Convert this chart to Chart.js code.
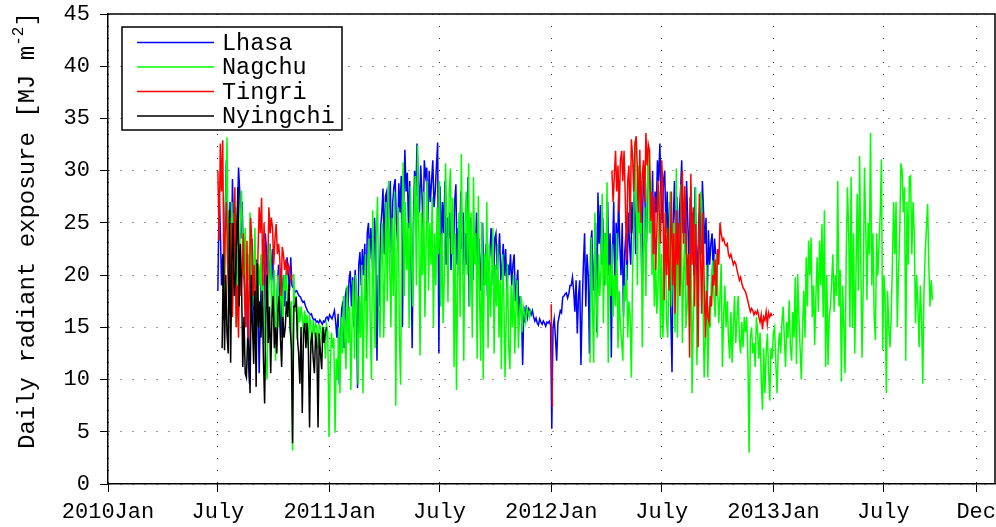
<!DOCTYPE html>
<html>
<head>
<meta charset="utf-8">
<title>Daily radiant exposure</title>
<script src="https://cdn.jsdelivr.net/npm/chart.js@4.4.1/dist/chart.umd.min.js"></script>
<style>
    html, body { margin: 0; padding: 0; background: #fff; }
    canvas { display: block; }
</style>
</head>
<body>
<canvas id="radiation-chart" width="996" height="527"></canvas>
<script>
/* ============================================= */
/*                    Data                       */
/* ============================================= */

// x values are days counted from 2010-01-01
const tickDays = [0, 181, 365, 546, 730, 912, 1096, 1277, 1430];
const tickLabels = ['2010Jan', 'July', '2011Jan', 'July', '2012Jan', 'July', '2013Jan', 'July', 'Dec'];
const lastDay = 1461;

const stationNames = ['Lhasa', 'Nagchu', 'Tingri', 'Nyingchi'];
const stationColors = ['#0000ff', '#00ff00', '#ff0000', '#000000'];

// one value every second day, starting at the given day
const dayStep = 2;

const lhasaStart = 181;
const lhasaVals = [
    18.5, 28.0, 24.5, 19.0, 22.0, 15.7, 26.0, 31.0, 25.5, 22.0, 27.0,
    20.5, 29.2, 24.0, 26.5, 18.0, 25.0, 30.3, 28.0, 23.5, 27.0, 21.0,
    19.0, 15.0, 22.0, 12.0, 9.6, 17.5, 23.5, 20.0, 14.0, 18.0, 21.5,
    17.0, 10.6, 16.5, 21.0, 19.5, 13.5, 24.0, 22.5, 17.0, 20.0, 23.0,
    19.5, 22.5, 18.0, 15.0, 12.5, 19.0, 21.0, 16.5, 14.0, 18.5, 20.0,
    17.0, 19.5, 21.7, 20.0, 18.5, 21.7, 19.0, 18.8, 18.6, 18.4,
    18.5, 18.2, 18.0, 17.9, 17.6, 17.4, 17.5, 17.1, 16.8, 16.5,
    16.4, 16.2, 16.3, 15.9, 15.7, 15.8, 15.5, 15.6, 15.4, 15.7,
    15.5, 15.3, 15.6, 15.5, 15.9, 16.0, 15.7, 16.2,
    16.0, 15.8, 16.2, 16.6, 15.5, 14.0, 16.3, 9.5,
    14.5, 16.8, 17.5, 13.0, 18.0, 18.8, 16.5, 19.5, 20.4, 17.0,
    19.8, 15.0, 20.5, 18.5, 9.2, 21.0, 22.2, 19.0, 22.5, 20.0,
    23.0, 17.5, 24.0, 25.0, 21.5, 24.5, 22.0, 19.0, 25.5, 23.0,
    11.8, 20.0, 17.0, 24.5, 26.0, 28.3, 22.0, 27.5, 28.0, 24.0,
    26.5, 29.0, 21.0, 27.0, 28.5, 29.2, 25.0, 23.0, 28.8, 26.0,
    29.5, 15.0, 27.0, 32.0, 28.0, 29.8, 24.5, 29.0, 22.0, 13.0,
    25.0, 30.0, 27.5, 32.6, 29.0, 26.0, 30.5, 28.0, 24.0, 31.0,
    29.5, 30.3, 25.0, 30.0, 27.0, 29.0, 31.0, 26.5, 28.0, 30.5,
    32.7, 12.5, 28.5, 22.4, 27.0, 24.0, 29.0, 21.0, 25.5, 23.5,
    26.0, 20.5, 24.0, 22.0, 27.0, 28.7, 21.0, 24.5, 20.0, 28.0,
    22.5, 26.0, 20.0, 24.0, 21.0, 29.4, 17.0, 25.5, 23.0, 19.5,
    24.0, 21.5, 26.0, 20.0, 23.5, 18.5, 22.0, 25.0, 19.0, 21.5,
    23.0, 18.0, 20.5, 22.0, 24.5, 21.7, 19.0, 23.5, 24.0, 20.5,
    22.0, 24.0, 19.5, 21.0, 23.0, 20.0, 22.5, 18.5, 21.0, 20.0,
    22.0, 19.0, 21.0, 22.0, 17.5, 19.0, 20.5, 15.5, 18.0, 16.5,
    11.4, 17.0, 15.5, 17.1, 16.0, 16.8, 16.6, 16.2, 16.6, 16.0,
    15.6, 15.9, 15.4, 15.2, 15.8, 15.5, 15.3, 15.6, 15.4, 15.1,
    15.5, 15.4, 15.6, 15.2, 5.3, 15.0, 15.8, 14.0, 11.8, 15.4,
    16.0, 16.6, 16.4, 17.9, 18.0, 18.2, 18.3, 17.8, 18.2, 19.0,
    19.0, 19.8, 18.5, 16.5, 19.5, 14.4, 18.0, 19.5, 11.4, 17.0,
    21.0, 24.0, 17.0, 22.0, 20.0, 12.5, 23.0, 24.3, 18.5, 21.0,
    25.0, 14.5, 27.9, 23.0, 26.7, 21.0, 25.5, 19.0, 24.0, 22.0,
    27.0, 20.0, 24.0, 12.1, 22.0, 27.0, 19.0, 25.0, 21.4, 27.6,
    23.0, 20.0, 25.0, 16.0, 22.0, 24.0, 19.5, 26.0, 23.0, 21.0,
    27.0, 24.0, 29.0, 22.0, 26.5, 30.0, 25.0, 28.5, 20.0, 27.0,
    30.5, 26.0, 23.0, 29.0, 31.5, 27.0, 24.0, 30.0, 22.0, 28.0,
    26.0, 31.0, 29.0, 32.6, 27.5, 25.0, 29.0, 30.0, 24.0, 28.0,
    22.0, 27.0, 16.3, 10.7, 25.0, 29.0, 23.0, 27.5, 20.0, 26.0,
    28.0, 31.0, 24.0, 27.0, 22.0, 29.0, 25.0, 21.0, 27.5, 24.0,
    26.0, 20.0, 28.4, 23.0, 19.0, 25.0, 27.0, 22.0, 29.0, 26.0,
    23.0, 25.5, 17.3, 24.3, 21.0, 23.0, 24.0, 20.0, 23.5, 22.0
];

const nagchuStart1 = 190;
const nagchuVals1 = [
    24.0, 18.0, 27.0, 33.2, 21.0, 25.5, 18.5, 27.0, 22.0, 26.0, 19.0,
    15.0, 23.0, 20.5, 25.0, 28.1, 21.0, 20.0, 24.5, 17.5, 22.0,
    19.5, 26.0, 22.4, 17.0, 20.5, 24.5, 18.0, 15.0, 21.0, 19.0,
    22.0, 16.5, 19.5, 14.0, 11.8, 10.0, 18.0, 23.0, 21.5, 16.0,
    18.0, 20.5, 11.8, 17.0, 20.0, 15.0, 17.5, 19.5, 14.5, 20.0,
    18.5, 20.7, 16.0, 18.0, 14.5, 17.5, 3.2, 20.1, 16.5, 18.0,
    13.8, 17.0, 15.5, 17.0, 16.0, 14.5, 16.6, 15.0, 16.2, 13.0,
    16.0, 15.5, 12.5, 15.7, 14.5, 15.3, 15.0, 13.0, 15.2, 15.0,
    14.0, 15.0, 14.8, 12.0, 15.2, 14.5, 4.5, 11.0, 14.5, 13.0,
    14.0, 4.9, 12.0, 10.0, 15.0, 8.7, 16.0, 12.5, 18.0, 14.0,
    11.0, 19.0, 13.5, 17.0, 9.0, 15.5, 19.5, 12.0, 20.0, 16.0,
    9.5, 18.0, 14.0, 21.0, 8.7, 17.5, 22.0, 12.0, 19.0, 23.5,
    15.0, 10.0, 26.2, 18.0, 13.0, 24.0, 27.5, 16.5, 14.0, 22.0,
    25.0, 14.0, 20.0, 27.0, 17.5, 29.0, 21.0, 15.0, 25.5, 18.0,
    28.0, 7.5, 22.0, 26.5, 14.0, 9.5, 24.0, 30.8, 18.0, 27.0,
    20.5, 25.0, 15.0, 28.5, 22.0, 17.0, 26.0, 29.5, 19.0, 32.4,
    24.0, 12.3, 26.0, 20.0, 28.0, 16.0, 23.0, 29.0, 18.5, 25.0,
    21.0, 27.5, 15.0, 24.0, 19.0, 26.5, 22.0, 29.0, 17.0, 24.0,
    15.4, 20.0, 30.7, 25.0, 17.4, 28.0, 30.2, 22.0, 27.4, 11.2,
    24.0, 9.0, 20.0, 26.0, 16.0, 31.6, 22.0, 11.8, 25.0, 28.0,
    20.0, 30.7, 17.0, 26.0, 14.0, 29.4, 21.0, 24.0, 12.0, 27.6,
    18.0, 11.8, 25.0, 10.0, 22.0, 19.0, 27.0, 13.0, 23.0, 16.0,
    20.0, 24.5, 12.5, 21.0, 17.0, 23.0, 14.0, 19.5, 11.0, 22.0,
    18.0, 10.2, 16.0, 21.1, 13.0, 11.0, 19.0, 15.0, 20.0, 12.5,
    17.0, 19.5, 13.0, 16.5, 18.0, 14.5, 17.0, 16.3, 15.5, 16.8,
    16.5, 16.0, 16.8
];

const nagchuStart2 = 794;
const nagchuVals2 = [
    11.6, 23.6, 17.0, 11.6, 26.0, 20.0, 14.0, 22.0, 18.0, 20.5,
    27.8, 15.4, 24.0, 19.0, 28.9, 11.6, 21.0, 18.0, 23.0, 16.0,
    20.0, 17.0, 24.0, 13.0, 18.5, 15.0, 13.7, 11.8, 19.0, 17.5,
    21.0, 14.0, 17.5, 16.0, 10.2, 20.0, 25.0, 32.9, 27.6, 19.0,
    30.5, 24.0, 29.0, 13.1, 22.0, 26.5, 18.0, 28.0, 32.2, 24.0,
    29.0, 20.0, 23.0, 17.0, 21.5, 16.3, 19.0, 28.0, 14.0, 22.0,
    14.0, 18.0, 26.0, 15.5, 14.0, 20.0, 28.0, 17.0, 21.0, 25.0,
    14.5, 30.2, 14.0, 22.0, 19.0, 28.7, 13.5, 20.0, 24.0, 15.0,
    17.0, 22.0, 15.0, 28.7, 8.7, 16.0, 20.0, 28.4, 11.4, 18.0,
    24.0, 28.0, 27.0, 18.0, 10.2, 14.0, 21.0, 10.2, 17.0, 15.0,
    20.0, 21.4, 18.0, 16.0, 22.0, 19.0, 15.4, 18.0, 21.1, 11.2,
    16.0, 19.0, 15.0, 17.5, 14.0, 12.0, 16.5, 11.6, 15.0, 18.0,
    13.5, 16.0, 18.0, 14.0, 12.5, 15.5, 13.1, 16.0, 14.5, 16.0,
    12.0, 3.0, 14.0, 15.0, 12.5, 13.5, 11.2, 16.0, 14.5, 12.0,
    14.5, 10.0, 7.1, 13.0, 8.7, 12.5, 14.4, 11.0, 8.0, 13.0,
    12.0, 14.5, 15.0, 11.5, 8.7, 13.0, 14.5, 12.5, 15.5, 17.0,
    14.0, 11.2, 15.5, 14.0, 17.6, 13.0, 11.8, 16.5, 14.0, 19.8,
    11.5, 20.1, 16.0, 13.0, 10.0, 15.0, 18.5, 14.0, 21.7, 17.0,
    23.3, 20.0, 23.6, 16.0, 19.0, 13.3, 18.0, 21.7, 16.5, 23.3,
    19.0, 24.9, 16.0, 26.2, 11.2, 20.0, 11.4, 16.0, 17.0, 19.5,
    22.0, 16.5, 20.0, 18.0, 29.0, 17.0, 20.5, 9.8, 19.0, 15.0,
    10.6, 22.0, 28.4, 24.0, 15.0, 29.4, 15.0, 24.0, 12.5, 20.0,
    27.8, 18.5, 31.4, 21.0, 12.1, 19.0, 30.3, 24.9, 17.6, 25.0,
    22.0, 33.6, 19.0, 24.0, 16.0, 13.8, 24.0, 20.0, 23.0, 26.0,
    31.1, 12.8, 20.0, 18.0, 8.7, 18.5, 15.0, 13.1, 16.0, 21.0,
    27.0, 22.0, 27.0, 15.0, 20.0, 24.0, 30.7, 30.0, 26.0, 28.4,
    11.8, 27.0, 21.0, 29.4, 29.5, 22.0, 27.0, 24.0, 15.4, 20.0,
    17.0, 13.1, 19.0, 16.0, 9.6, 18.5, 22.0, 24.5, 26.8, 21.0,
    17.0, 19.5, 17.6
];

const tingriStart1 = 181;
const tingriVals1 = [
    30.0, 23.3, 32.6, 28.0, 32.9, 19.2, 24.0, 27.0, 21.0, 17.0,
    16.3, 25.0, 16.0, 22.0, 28.4, 15.0, 19.0, 14.0, 22.5, 18.0,
    20.0, 24.0, 17.5, 15.0, 23.3, 13.1, 19.0, 25.5, 23.0, 18.0,
    21.0, 17.0, 15.5, 22.0, 26.5, 24.0, 27.4, 19.0, 25.0, 21.0,
    17.6, 20.5, 26.5, 24.0, 25.5, 24.5, 21.0, 23.5, 24.9, 22.0,
    23.0, 21.5, 18.0, 22.7, 22.0, 20.5, 21.5, 20.0, 21.0, 20.7,
    19.5, 20.0
];

const tingriStart2 = 730;
const tingriVals2 = [17.2, 7.4];

const tingriStart3 = 830;
const tingriVals3 = [
    30.0, 27.0, 29.5, 31.9, 28.0, 30.5, 26.0, 31.0, 31.9, 29.0,
    31.9, 27.5, 21.4, 29.0, 30.5, 24.0, 33.0, 31.5, 28.0, 32.5,
    33.3, 30.0, 26.0, 32.0, 25.0, 29.5, 31.0, 27.0, 33.6, 30.5,
    32.5, 31.9, 25.2, 28.0, 22.0, 27.5, 20.5, 24.0, 29.0, 26.0,
    23.0, 31.0, 28.5, 17.6, 26.0, 20.0, 24.5, 18.5, 22.0, 28.0,
    19.0, 24.0, 16.3, 26.2, 21.0, 25.0, 18.0, 27.0, 30.0, 23.0,
    28.5, 25.2, 19.0, 22.0, 12.1, 29.7, 21.0, 26.5, 17.0, 24.9,
    20.0, 13.1, 27.8, 22.0, 16.3, 26.0, 19.0, 14.0, 18.5, 16.0,
    15.5, 18.0, 17.0, 20.0, 19.0, 21.5, 18.0, 22.5, 21.0, 25.0,
    24.0, 23.3, 23.5, 23.0, 22.8, 23.0, 22.0, 21.7, 22.0, 21.5,
    21.0, 21.3, 21.1, 20.5, 20.0, 19.5, 19.8, 19.2, 18.8, 18.6,
    18.4, 18.0, 17.5, 17.0, 16.5, 16.8, 16.6, 16.2, 16.5, 16.3,
    16.6, 16.0, 15.5, 16.2, 14.8, 16.0, 15.7, 16.5, 15.3, 16.4,
    16.0, 16.3, 16.1
];

const nyingchiStart = 188;
const nyingchiVals = [
    13.0, 22.0, 12.8, 20.0, 14.4, 12.5, 26.2, 11.6, 21.0, 25.0,
    18.0, 20.0, 24.0, 28.4, 17.0, 23.0, 19.0, 11.2, 16.0, 10.6,
    10.2, 14.0, 13.0, 8.7, 20.0, 15.0, 11.5, 18.5, 9.3, 21.1,
    15.0, 17.5, 14.0, 18.5, 12.0, 7.7, 16.0, 20.0, 13.5, 17.0,
    10.6, 16.0, 18.0, 13.0, 15.0, 12.5, 16.5, 18.0, 14.0, 11.2,
    16.0, 14.0, 15.0, 17.5, 16.0, 19.2, 15.0, 13.0, 3.9, 17.0,
    17.0, 17.9, 14.0, 12.5, 9.6, 15.0, 6.8, 14.5, 15.4, 13.0,
    15.4, 13.0, 5.4, 13.5, 14.5, 12.0, 10.6, 14.5, 13.0, 5.4,
    14.4, 12.5, 11.0, 15.0, 13.5, 14.5, 15.0
];

// turn runs of values into {x, y} points, with a null point between runs
function toPoints(runs) {
    const points = [];
    runs.forEach(([start, vals], r) => {
        if (r > 0) {
            points.push({x: start - 1, y: null});
        }
        vals.forEach((v, i) => points.push({x: start + i * dayStep, y: v}));
    });
    return points;
}

const stationPoints = [
    toPoints([[lhasaStart, lhasaVals]]),
    toPoints([[nagchuStart1, nagchuVals1], [nagchuStart2, nagchuVals2]]),
    toPoints([[tingriStart1, tingriVals1], [tingriStart2, tingriVals2], [tingriStart3, tingriVals3]]),
    toPoints([[nyingchiStart, nyingchiVals]])
];


/* ============================================= */
/*                  Plugins                      */
/* ============================================= */

const monoFont = "'Liberation Mono', 'Courier New', monospace";

// top and right edges of the axes box
const boxFrame = {
    id: 'boxFrame',
    afterDraw(chart) {
        const {ctx, chartArea} = chart;
        ctx.save();
        ctx.strokeStyle = '#000';
        ctx.lineWidth = 1.5;
        ctx.beginPath();
        ctx.moveTo(chartArea.left, chartArea.top);
        ctx.lineTo(chartArea.right, chartArea.top);
        ctx.lineTo(chartArea.right, chartArea.bottom);
        ctx.stroke();
        ctx.restore();
    }
};

// legend with a framed box inside the plot
const boxLegend = {
    id: 'boxLegend',
    afterDatasetsDraw(chart) {
        const {ctx, chartArea} = chart;
        const x = chartArea.left + 14;
        const y = chartArea.top + 13;
        ctx.save();
        ctx.fillStyle = '#fff';
        ctx.fillRect(x, y, 220, 103);
        ctx.strokeStyle = '#000';
        ctx.lineWidth = 1.5;
        ctx.strokeRect(x, y, 220, 103);
        ctx.font = '23.5px ' + monoFont;
        ctx.textBaseline = 'middle';
        chart.data.datasets.forEach((ds, i) => {
            const ly = y + 15.5 + i * 24.5;
            ctx.strokeStyle = ds.borderColor;
            ctx.lineWidth = 1.5;
            ctx.beginPath();
            ctx.moveTo(x + 15, ly);
            ctx.lineTo(x + 92, ly);
            ctx.stroke();
            ctx.fillStyle = '#000';
            ctx.fillText(ds.label, x + 100, ly + 1);
        });
        ctx.restore();
    }
};

// rotated y axis title with a superscript exponent
const yTitle = {
    id: 'yTitle',
    afterDraw(chart) {
        const ctx = chart.ctx;
        const main = 'Daily radiant exposure [MJ m';
        ctx.save();
        ctx.translate(28, 449);
        ctx.rotate(-Math.PI / 2);
        ctx.fillStyle = '#000';
        ctx.textBaseline = 'middle';
        ctx.font = '24px ' + monoFont;
        ctx.fillText(main, 0, 0);
        let w = ctx.measureText(main).width;
        ctx.font = '16px ' + monoFont;
        ctx.fillText('-2', w, -9);
        w += ctx.measureText('-2').width;
        ctx.font = '24px ' + monoFont;
        ctx.fillText(']', w, 0);
        ctx.restore();
    }
};


/* ============================================= */
/*                   Chart                       */
/* ============================================= */

const radCanvas = document.getElementById('radiation-chart');
const drawOrder = [4, 3, 2, 1];

const radData = {
    datasets: stationNames.map((name, i) => ({
        label: name,
        data: stationPoints[i],
        borderColor: stationColors[i],
        backgroundColor: stationColors[i],
        borderWidth: 1.5,
        pointRadius: 0,
        tension: 0,
        order: drawOrder[i]
    }))
};

const radOptions = {
    responsive: false,
    animation: false,
    parsing: false,
    layout: {
        padding: {top: 14, right: 1, left: 0, bottom: 0}
    },
    scales: {
        x: {
            type: 'linear',
            min: 0,
            max: lastDay,
            afterBuildTicks: scale => {
                scale.ticks = tickDays.map(v => ({value: v}));
            },
            afterFit: scale => {
                scale.height = 43;
                scale.paddingLeft = 0;
                scale.paddingRight = 0;
            },
            ticks: {
                autoSkip: false,
                maxRotation: 0,
                padding: 7,
                color: '#000',
                font: {family: monoFont, size: 22},
                callback: v => tickLabels[tickDays.indexOf(v)]
            },
            grid: {
                color: '#333',
                lineWidth: 1,
                tickLength: 8,
                tickColor: '#000',
                tickWidth: 1
            },
            border: {display: true, color: '#000', width: 1.5, dash: [1, 11]}
        },
        y: {
            min: 0,
            max: 45,
            afterFit: scale => {
                scale.width = 108;
                scale.paddingTop = 0;
                scale.paddingBottom = 0;
            },
            ticks: {
                stepSize: 5,
                padding: 10,
                color: '#000',
                font: {family: monoFont, size: 22}
            },
            grid: {
                color: '#333',
                lineWidth: 1,
                tickLength: 8,
                tickColor: '#000',
                tickWidth: 1
            },
            border: {display: true, color: '#000', width: 1.5, dash: [1, 11]}
        }
    },
    plugins: {
        legend: {display: false},
        tooltip: {enabled: false}
    }
};

let radChart = new Chart(radCanvas, {
    type: 'line',
    data: radData,
    options: radOptions,
    plugins: [boxFrame, boxLegend, yTitle]
});
</script>
</body>
</html>
